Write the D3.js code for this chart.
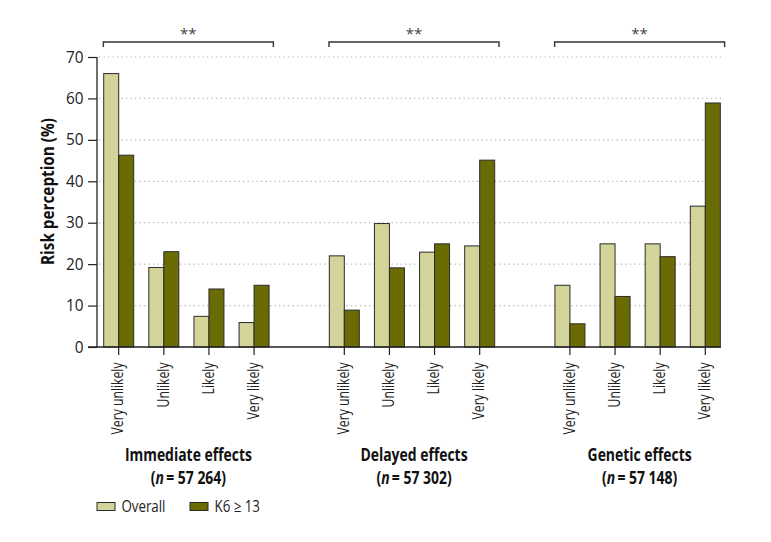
<!DOCTYPE html>
<html>
<head>
<meta charset="utf-8">
<script src="https://cdn.jsdelivr.net/npm/d3@7"></script>
<style>
  body { margin: 0; background: #fff; }
  svg { display: block; }
  text { font-family: "Open Sans", "Noto Sans", "DejaVu Sans", sans-serif; }
</style>
</head>
<body>
<svg id="chart" width="771" height="542"></svg>
<script>
// ---- data ----
const groups = ["Immediate effects", "Delayed effects", "Genetic effects"];
const groupN = ["57 264", "57 302", "57 148"];
const categories = ["Very unlikely", "Unlikely", "Likely", "Very likely"];
const seriesNames = ["Overall", "K6 \u2265 13"];
const overall = [
  [66.0, 19.2, 7.4, 5.9],
  [22.0, 29.8, 22.9, 24.4],
  [14.9, 24.9, 24.9, 34.0]
];
const k6 = [
  [46.3, 23.0, 14.0, 14.9],
  [8.9, 19.1, 24.9, 45.1],
  [5.6, 12.2, 21.8, 58.9]
];
const yTicks = [0, 10, 20, 30, 40, 50, 60, 70];
const significance = ["**", "**", "**"];

// ---- layout ----
const svg = d3.select("#chart");
const colors = ["#d3d499", "#6b6b04"];
const barW = 15;

// the reference uses a condensed typeface: measure a sample string and derive a horizontal squeeze
function squeezeFactor(str, size, weight, target) {
  const t = svg.append("text").attr("font-size", size).attr("font-weight", weight).text(str);
  const w = t.node().getComputedTextLength();
  t.remove();
  return target / w;
}

// slots: 4 categories per group plus one empty slot between groups
const slots = [];
groups.forEach((g, gi) => {
  categories.forEach((c, ci) => slots.push(gi + "|" + ci));
  if (gi < groups.length - 1) slots.push("gap" + gi);
});

const x = d3.scalePoint().domain(slots).range([118.7, 705.3]);
const y = d3.scaleLinear().domain([0, 70]).range([347, 57]);

const axisLeft = 97, axisRight = 721;

// gridlines
svg.append("g").selectAll("line")
  .data(yTicks.filter(d => d > 0))
  .join("line")
  .attr("x1", axisLeft + 2).attr("x2", axisRight)
  .attr("y1", d => y(d)).attr("y2", d => y(d))
  .attr("stroke", "#b8b8b8").attr("stroke-width", 1.2)
  .attr("stroke-dasharray", "1.3,3.2");

// bars
const barData = [];
groups.forEach((g, gi) => {
  categories.forEach((c, ci) => {
    barData.push({ key: gi + "|" + ci, s: 0, v: overall[gi][ci] });
    barData.push({ key: gi + "|" + ci, s: 1, v: k6[gi][ci] });
  });
});
svg.append("g").selectAll("rect")
  .data(barData)
  .join("rect")
  .attr("x", d => x(d.key) + (d.s === 0 ? -barW : 0))
  .attr("width", barW)
  .attr("y", d => y(d.v))
  .attr("height", d => y(0) - y(d.v))
  .attr("fill", d => colors[d.s])
  .attr("stroke", "#2b2b2b")
  .attr("stroke-width", 1);

// y axis
const kTick = squeezeFactor("70", 16, "normal", 17.5);
const yAxis = d3.axisLeft(y).tickValues(yTicks).tickSize(9).tickPadding(4.5).tickFormat(d3.format("d"));
const gy = svg.append("g").attr("transform", `translate(${axisLeft},0)`).call(yAxis);
gy.select(".domain").attr("d", `M0,${y(70)}V${y(0)}`).attr("stroke", "#222").attr("stroke-width", 1.3);
gy.selectAll(".tick line").attr("stroke", "#222").attr("stroke-width", 1.2);
gy.selectAll(".tick text")
  .attr("font-size", 16).attr("fill", "#222")
  .style("font-family", "'Open Sans', sans-serif")
  .attr("x", 0)
  .attr("transform", `translate(-13.5,0) scale(${kTick},1)`);

// x axis baseline
svg.append("line")
  .attr("x1", axisLeft - 9).attr("x2", axisRight)
  .attr("y1", y(0)).attr("y2", y(0))
  .attr("stroke", "#222").attr("stroke-width", 1.3);

// x axis ticks & labels
const kCat = squeezeFactor(categories[0], 16, "normal", 72);
const catKeys = slots.filter(s => !s.startsWith("gap"));
const xt = svg.append("g").selectAll("g")
  .data(catKeys)
  .join("g")
  .attr("transform", d => `translate(${x(d)},${y(0)})`);
xt.append("line").attr("y1", 0).attr("y2", 8).attr("stroke", "#222").attr("stroke-width", 1.2);
xt.append("text")
  .attr("transform", `translate(-1,15.5) rotate(-90) scale(${kCat},1)`)
  .attr("text-anchor", "end")
  .attr("dy", "0.36em")
  .attr("font-size", 16)
  .attr("fill", "#222")
  .text(d => categories[+d.split("|")[1]]);

// group centers
const groupCenter = gi => (x(gi + "|0") + x(gi + "|3")) / 2 + 2;

// group labels
const gSize = 17.2;
const kGroup = squeezeFactor(groups[0], gSize, "bold", 127);
groups.forEach((g, gi) => {
  const cx = groupCenter(gi);
  svg.append("text")
    .attr("transform", `translate(${cx},460.5) scale(${kGroup},1)`)
    .attr("text-anchor", "middle")
    .attr("font-size", gSize).attr("font-weight", "bold").attr("fill", "#111")
    .text(g);
  const t = svg.append("text")
    .attr("transform", `translate(${cx},484) scale(${kGroup},1)`)
    .attr("text-anchor", "middle")
    .attr("font-size", gSize).attr("font-weight", "bold").attr("fill", "#111");
  t.append("tspan").text("(");
  t.append("tspan").attr("font-style", "italic").text("n");
  t.append("tspan").text("\u2009= " + groupN[gi] + ")");
});

// significance brackets
groups.forEach((g, gi) => {
  const cx = groupCenter(gi);
  const x0 = cx - 85, x1 = cx + 85, yb = 42;
  svg.append("path")
    .attr("d", `M${x0},${yb + 5}V${yb}H${x1}V${yb + 5}`)
    .attr("fill", "none").attr("stroke", "#333").attr("stroke-width", 1.4);
  svg.append("text")
    .attr("x", cx).attr("y", 39)
    .attr("text-anchor", "middle")
    .attr("font-size", 15).attr("fill", "#444")
    .text(significance[gi]);
});

// y axis title
const yTitle = "Risk perception (%)";
const kTitle = squeezeFactor(yTitle, 18.5, "bold", 147);
svg.append("text")
  .attr("transform", `translate(53.5,191.5) rotate(-90) scale(${kTitle},1)`)
  .attr("text-anchor", "middle")
  .attr("font-size", 18.5).attr("font-weight", "bold").attr("fill", "#111")
  .text(yTitle);

// legend
const kLeg = squeezeFactor(seriesNames[0], 16, "normal", 44);
const legend = svg.append("g").attr("transform", "translate(97,502.5)");
const legX = [0, 93];
seriesNames.forEach((s, i) => {
  const lg = legend.append("g").attr("transform", `translate(${legX[i]},0)`);
  lg.append("rect").attr("width", 18).attr("height", 8)
    .attr("fill", colors[i]).attr("stroke", "#2b2b2b").attr("stroke-width", 1);
  lg.append("text")
    .attr("transform", `translate(24.5,4) scale(${kLeg},1)`)
    .attr("dy", "0.36em")
    .attr("font-size", 16).attr("fill", "#222").text(s);
});
</script>
</body>
</html>
